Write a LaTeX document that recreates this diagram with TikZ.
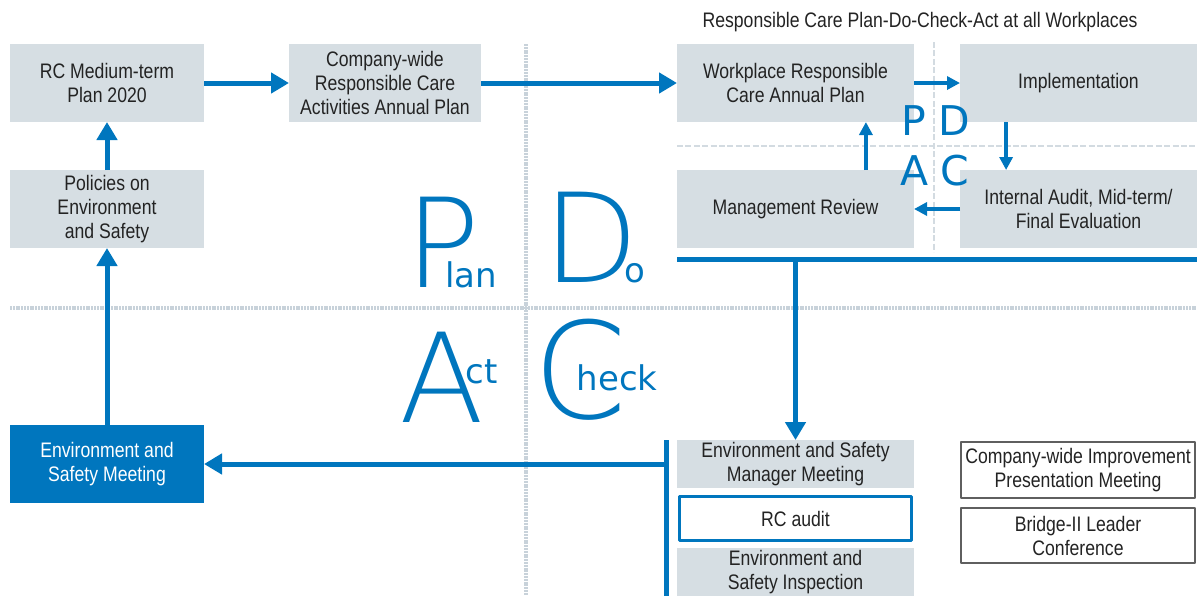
\documentclass[tikz,border=0pt]{standalone}
\usepackage{fontspec}
\setmainfont{Liberation Sans}[FakeStretch=0.84]
\newfontfamily\thinfont{DejaVuSans-ExtraLight.ttf}
\newfontfamily\roundfont{DejaVu Sans}
\usetikzlibrary{arrows.meta}
\definecolor{rcblue}{RGB}{0,118,190}
\definecolor{boxgrey}{RGB}{214,222,227}
\definecolor{dotgrey}{RGB}{200,210,218}
\definecolor{txtgrey}{RGB}{35,35,35}
\definecolor{edgegrey}{RGB}{95,95,95}
\tikzset{
  box/.style={fill=boxgrey,text=txtgrey,align=center,inner sep=0pt,outer sep=0pt,minimum width=118.5pt,minimum height=39pt},
  outbox/.style={draw=edgegrey,line width=0.75pt,fill=white,text=txtgrey,align=center,inner sep=0pt,outer sep=0pt,minimum width=117.2pt},
  main/.style={rcblue,line width=2.5pt},
  pdca/.style={rcblue,line width=1.7pt,-{Triangle[length=6.5pt,width=6.5pt]}},
  grid/.style={dotgrey,line width=2pt,dash pattern=on 1pt off 0.4pt},
  fine/.style={dotgrey!80,line width=1.3pt,dash pattern=on 3pt off 1.2pt},
  bigl/.style={text=rcblue,inner sep=0pt,anchor=base,font=\thinfont\fontsize{62}{62}\selectfont},
  smll/.style={text=rcblue,inner sep=0pt,anchor=base,font=\roundfont\fontsize{17}{17}\selectfont},
  pdcal/.style={text=rcblue,inner sep=0pt,anchor=base,font=\roundfont\fontsize{20.5}{20.5}\selectfont}
}
\begin{document}
\begin{tikzpicture}[x=0.5pt,y=-0.5pt,line join=round,>={Triangle[length=9pt,width=10pt]},font=\fontsize{10.5}{12}\selectfont]
\useasboundingbox (0,0) rectangle (1197,595);
\draw[grid] (526,44)--(526,595);
\draw[grid] (10,308)--(1197,308);
\draw[fine] (934,42)--(934,252);
\draw[fine] (677,146)--(1197,146);
\node[text=txtgrey] (ttl) at (920,22) {Responsible Care Plan-Do-Check-Act at all Workplaces};
\node[box,minimum width=97pt] (mtp) at (107,83) {RC Medium-term\\Plan 2020};
\node[box,minimum width=96pt] (cwp) at (385,83) {Company-wide\\Responsible Care\\Activities Annual Plan};
\node[box,minimum width=97pt] (pol) at (107,209) {Policies on\\Environment\\and Safety};
\node[box,minimum width=97pt,fill=rcblue,text=white] (esm) at (107,464) {Environment and\\Safety Meeting};
\node[box] (wrc) at (795.5,83) {Workplace Responsible\\Care Annual Plan};
\node[box] (imp) at (1078.5,83) {Implementation};
\node[box] (mgr) at (795.5,209) {Management Review};
\node[box] (iae) at (1078.5,209) {Internal Audit, Mid-term/\\Final Evaluation};
\node[box,minimum height=24pt] (esmm) at (795.5,464) {Environment and Safety\\Manager Meeting};
\node[box,fill=white,draw=rcblue,line width=1.25pt,minimum width=116.2pt,minimum height=22.2pt] (rca) at (795.5,518.5) {RC audit};
\node[box,minimum height=24pt] (esi) at (795.5,572) {Environment and\\Safety Inspection};
\node[outbox,minimum height=28.2pt] (cip) at (1078,470) {Company-wide Improvement\\Presentation Meeting};
\node[outbox,minimum height=27.7pt] (blc) at (1078,535.5) {Bridge-II Leader\\Conference};
\coordinate (barL) at (677,259);
\coordinate (barR) at (1197,259);
\coordinate (vt) at (666,440);
\coordinate (vb) at (666,600);
\draw[main,->] (mtp)--(cwp);
\draw[main,->] (cwp)--(wrc);
\draw[main,->] (pol)--(mtp);
\draw[main,->] (esm)--(pol);
\draw[main] (barL)--(barR);
\draw[main,->] (esmm.north |- barL)--(esmm.north);
\draw[main] (vt)--(vb);
\draw[main,->] (vt |- esm.east)--(esm.east);
\draw[pdca] (wrc)--(imp);
\draw[pdca] ([xshift=-36.2pt]imp.south)--([xshift=-36.2pt]iae.north);
\draw[pdca] (iae)--(mgr);
\draw[pdca] ([xshift=35.2pt]mgr.north)--([xshift=35.2pt]wrc.south);
\path
(443,287) node[bigl] (bigP) {P}
(471,287) node[smll] (lan) {lan}
(591,282) node[bigl] (bigD) {D}
(635,282) node[smll] (oo) {o}
(442,422) node[bigl] (bigA) {A}
(482,383) node[smll] (ct) {ct}
(580,418) node[bigl,font=\thinfont\fontsize{67}{67}\selectfont] (bigC) {C}
(617,390) node[smll] (heck) {heck}
(914,135) node[pdcal] (pP) {P}
(954,135) node[pdcal] (pD) {D}
(915,185) node[pdcal] (pA) {A}
(955,185) node[pdcal] (pC) {C}
;
\end{tikzpicture}
\end{document}
